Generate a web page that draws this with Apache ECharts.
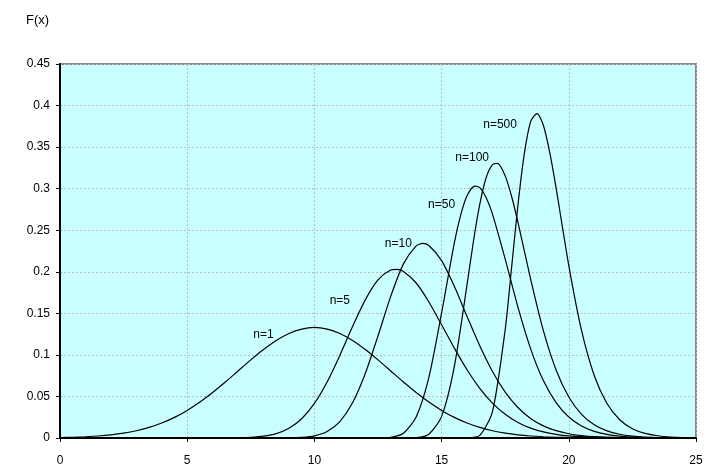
<!DOCTYPE html>
<html><head><meta charset="utf-8">
<script src="https://cdn.jsdelivr.net/npm/echarts@6/dist/echarts.min.js"></script>
<style>html,body{margin:0;padding:0;background:#fff}#c{width:708px;height:472px}</style>
</head><body><div id="c"></div>
<script>
// Data
var n1X = [0,0.5,1,1.5,2,2.5,3,3.5,4,4.5,5,5.5,6,6.5,7,7.5,8,8.5,9,9.5,10,10.5,11,11.5,12,12.5,13,13.5,14,14.5,15,15.5,16,16.5,17,17.5,18,18.5,19,19.5,20];
var n1Y = [.0005,.0009,.0015,.0024,.0038,.0058,.0087,.0127,.0180,.0248,.0332,.0432,.0547,.0673,.0807,.0940,.1065,.1174,.1258,.1311,.1330,.1311,.1258,.1174,.1065,.0940,.0807,.0673,.0547,.0432,.0332,.0248,.0180,.0127,.0087,.0058,.0038,.0024,.0015,.0009,.0005];
var n5X = [7,7.5,8,8.5,9,9.5,10,10.5,11,11.5,12,12.5,13,13.25,13.5,14,14.5,15,15.5,16,16.5,17,17.5,18,18.5,19,19.5,20,21,22];
var n5Y = [.0003,.0008,.0022,.0053,.0117,.0232,.0416,.0674,.0994,.1341,.1662,.1902,.2021,.2029,.2004,.1865,.1637,.1363,.1081,.0821,.0598,.0420,.0285,.0187,.0119,.0073,.0044,.0026,.0008,.0002];
var n10X = [9,9.5,10,10.5,11,11.5,12,12.5,13,13.5,14,14.25,14.5,15,15.5,16,16.5,17,17.5,18,18.5,19,19.5,20,20.5,21,22,23];
var n10Y = [.0002,.0007,.0026,.0078,.0198,.0424,.0776,.1229,.1704,.2095,.2312,.2341,.2317,.2134,.1825,.1463,.1109,.0800,.0552,.0367,.0235,.0146,.0088,.0051,.0029,.0016,.0005,.0001];
var n50X = [12.5,13,13.5,14,14.5,15,15.5,15.75,16,16.3,16.5,16.75,17,17.5,18,18.5,19,19.5,20,20.5,21,21.5,22,22.5,23,24];
var n50Y = [.0001,.0009,.0058,.0252,.0729,.1505,.2347,.2682,.2914,.3031,.3012,.2895,.2694,.2153,.1574,.1073,.0691,.0426,.0252,.0144,.0080,.0043,.0022,.0011,.0006,.0001];
var n100X = [13.5,14,14.5,15,15.5,16,16.25,16.5,16.75,17,17.2,17.5,17.75,18,18.5,19,19.5,20,20.5,21,21.5,22,22.5,23,23.5,24];
var n100Y = [.0000,.0004,.0046,.0260,.0860,.1845,.2364,.2810,.3131,.3289,.3305,.3154,.2909,.2598,.1912,.1292,.0819,.0493,.0284,.0158,.0085,.0045,.0023,.0011,.0005,.0003];
var n500X = [16,16.5,17,17.5,17.75,18,18.25,18.5,18.75,19,19.25,19.5,20,20.5,21,21.5,22,22.5,23,23.5,24,24.5];
var n500Y = [.0001,.0032,.0317,.1305,.2047,.2799,.3418,.3806,.3904,.3763,.3437,.3010,.2075,.1295,.0752,.0415,.0220,.0112,.0055,.0027,.0012,.0006];
var seriesNames = ['n=1','n=5','n=10','n=50','n=100','n=500'];
var xTicks = [0,5,10,15,20,25];
var yTicks = [0,0.05,0.1,0.15,0.2,0.25,0.3,0.35,0.4,0.45];

// Label anchors (data coordinates) for the curve names
var labelAnchors = [[8.0,0.124],[11.0,0.165],[13.3,0.234],[15.0,0.281],[16.2,0.337],[17.3,0.377]];

var allX = [n1X,n5X,n10X,n50X,n100X,n500X];
var allY = [n1Y,n5Y,n10Y,n50Y,n100Y,n500Y];
function pairs(xs, ys){ return xs.map(function(x,i){ return [x, ys[i]]; }); }

var font = 'Liberation Sans, Arial, sans-serif';
var series = seriesNames.map(function(name, i){
  return {
    name: name, type: 'line', data: pairs(allX[i], allY[i]),
    smooth: 0.25, showSymbol: false, symbol: 'none',
    lineStyle: {color: '#000', width: 1.2}, z: 3,
    markPoint: {
      symbol: 'circle', symbolSize: 0, silent: true,
      data: [{coord: labelAnchors[i], value: name}],
      label: {show: true, formatter: name, color: '#000', fontFamily: font, fontSize: 12, position: 'inside'}
    }
  };
});

var chart = echarts.init(document.getElementById('c'), null, {renderer: 'canvas'});
chart.setOption({
  animation: false,
  backgroundColor: '#fff',
  title: {text: 'F(x)', left: 21, top: 9, textStyle: {fontFamily: font, fontSize: 13, fontWeight: 'normal', color: '#000'}},
  grid: {left: 60, right: 12, top: 64, bottom: 34, show: true, backgroundColor: '#c9ffff', borderColor: '#888', borderWidth: 2},
  xAxis: {
    type: 'value', min: xTicks[0], max: xTicks[xTicks.length-1], interval: 5,
    axisLine: {show: true, lineStyle: {color: '#000', width: 2}},
    axisTick: {show: true, inside: false, length: 4, lineStyle: {color: '#000'}},
    axisLabel: {color: '#000', fontFamily: font, fontSize: 12, margin: 17},
    splitLine: {show: true, lineStyle: {color: '#bbb', type: [2,2], width: 1}}
  },
  yAxis: {
    type: 'value', min: yTicks[0], max: yTicks[yTicks.length-1], interval: 0.05,
    axisLine: {show: true, lineStyle: {color: '#000', width: 2}},
    axisTick: {show: true, inside: false, length: 4, lineStyle: {color: '#000'}},
    axisLabel: {color: '#000', fontFamily: font, fontSize: 12, margin: 10,
      formatter: function(v){ return String(Math.round(v*100)/100); }},
    splitLine: {show: true, lineStyle: {color: '#bbb', type: [2,2], width: 1}}
  },
  series: series
});
</script>
</body></html>
